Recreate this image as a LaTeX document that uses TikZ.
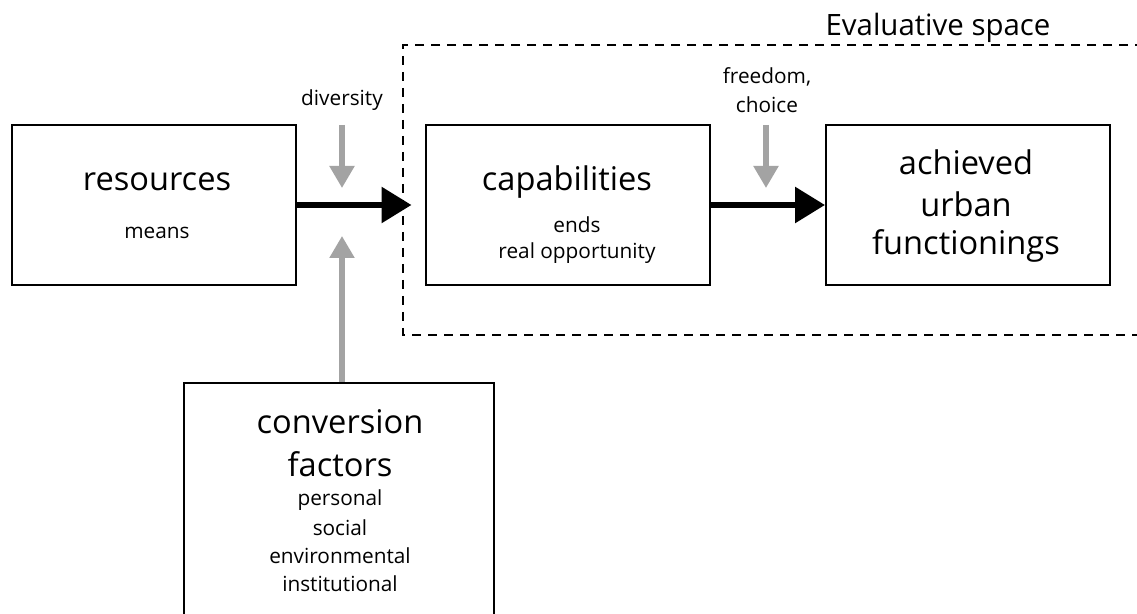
\documentclass[tikz,border=0pt]{standalone}
\usepackage{fontspec}
\setmainfont{Open Sans}
\usetikzlibrary{arrows.meta}
\definecolor{lightgray}{RGB}{163,163,163}
\tikzset{
  box/.style={draw=black, line width=1pt, inner sep=0pt, minimum width=142pt, minimum height=80pt},
  big/.style={inner sep=0pt, font=\fontsize{16.3}{16.3}\selectfont},
  small/.style={inner sep=0pt, font=\fontsize{10.4}{10.4}\selectfont},
  mainarrow/.style={line width=3pt, -{Triangle[length=15pt,width=17.5pt]}},
  grayarrow/.style={draw=lightgray, line width=2.6pt, -{Triangle[length=11pt,width=12pt]}},
}
\begin{document}
\begin{tikzpicture}[x=0.5pt, y=-0.5pt]
  \clip (0,0) rectangle (1137,614);
  \fill[white] (0,0) rectangle (1137,614);
  % evaluative space
  \draw[line width=1.2pt, dash pattern=on 4.5pt off 3.5pt] (1160,45) -- (403,45) -- (403,335) -- (1160,335);
  \node[inner sep=0pt, font=\fontsize{14.7}{14.7}\selectfont] (evalsp) at (938,28) {Evaluative space};
  % boxes
  \node[box] (res) at (154,205) {};
  \node[box] (cap) at (567.5,205) {};
  \node[box] (ach) at (968,205) {};
  \node[box, minimum width=155pt, minimum height=140pt] (conv) at (339,523) {};
  % texts in the boxes
  \node[big] (restxt) at (157,182) {resources};
  \node[small] (means) at (157,233) {means};
  \node[big] (captxt) at (567,182) {capabilities};
  \node[small] (ends) at (577,225) {ends};
  \node[small] (realop) at (577,253) {real opportunity};
  \node[big] (achtxt) at (966,162) {achieved};
  \node[big] (urban) at (966,204) {urban};
  \node[big] (funct) at (966,246) {functionings};
  \node[big] (convtxt) at (340,422) {conversion};
  \node[big] (factors) at (340,464) {factors};
  \node[small] (pers) at (340,500) {personal};
  \node[small] (soc) at (340,528) {social};
  \node[small] (env) at (340,556) {environmental};
  \node[small] (inst) at (340,584) {institutional};
  % labels above the arrows
  \node[small] (div) at (342,100) {diversity};
  \node[small] (free) at (767,77) {freedom,};
  \node[small] (choice) at (767,105) {choice};
  % arrows
  \draw[mainarrow, shorten >=6.5pt] (res.east) -- (cap.west);
  \draw[mainarrow] (cap.east) -- (ach.west);
  \coordinate (divtop) at (342,125);
  \coordinate (divtip) at (342,188);
  \coordinate (uptip) at (342,236);
  \coordinate (freetop) at (766,125);
  \coordinate (freetip) at (766,188);
  \draw[grayarrow] (divtop) -- (divtip);
  \draw[grayarrow] (conv.north -| uptip) -- (uptip);
  \draw[grayarrow] (freetop) -- (freetip);
\end{tikzpicture}
\end{document}
